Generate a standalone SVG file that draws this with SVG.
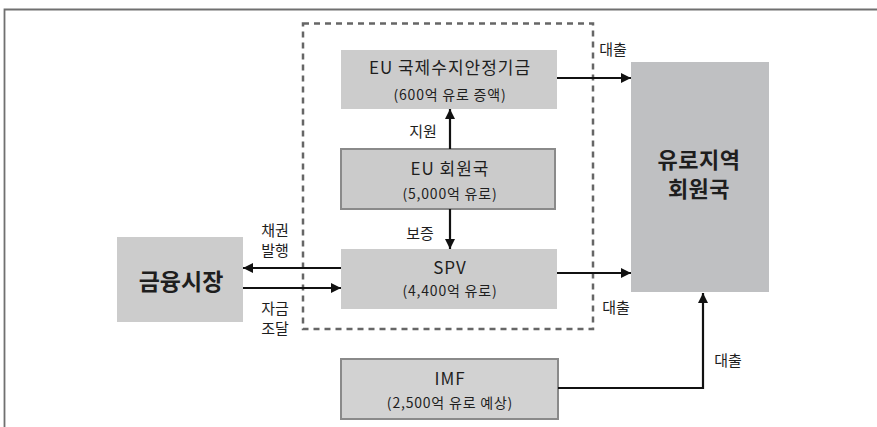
<svg xmlns="http://www.w3.org/2000/svg" width="877" height="427" viewBox="0 0 877 427">
<defs>
<marker id="ah" viewBox="0 0 10 10" refX="10" refY="5" markerWidth="10" markerHeight="10" markerUnits="userSpaceOnUse" orient="auto">
<path d="M0,0 L10,5 L0,10 Z" fill="#111"/>
</marker>
</defs>
<style>
text{font-family:"Noto Sans CJK KR","Liberation Sans",sans-serif;fill:#1e1e1e;text-anchor:middle}
.t{font-size:17px;letter-spacing:1px}
.s{font-size:14px;letter-spacing:0.8px}
.l{font-size:15px}
.big{font-size:23px;font-weight:bold}
.eu{font-size:22px;font-weight:bold;letter-spacing:0.5px}
.box{fill:#cccccc}
.sbox{fill:#cbcbcb;stroke:#8a8a8a;stroke-width:2}
.c{fill:none;stroke:#111;stroke-width:2.2;marker-end:url(#ah)}
</style>
<rect width="877" height="427" fill="#fff"/>
<path d="M4.5,427 L4.5,9.5 L877,9.5" fill="none" stroke="#707070" stroke-width="1.8"/>
<rect x="303" y="23.5" width="290" height="305.5" fill="none" stroke="#666" stroke-width="2.5" stroke-dasharray="6,5"/>
<g id="fund">
<rect class="box" x="341" y="50" width="216" height="59"/>
<text class="t" x="450" y="74">EU 국제수지안정기금</text>
<text class="s" x="450" y="100">(600억 유로 증액)</text>
</g>
<g id="members">
<rect class="sbox" x="341" y="149" width="214" height="60"/>
<text class="t" x="450" y="175">EU 회원국</text>
<text class="s" x="450" y="199">(5,000억 유로)</text>
</g>
<g id="spv">
<rect class="box" x="341" y="249" width="216" height="60"/>
<text class="t" x="450" y="274">SPV</text>
<text class="s" x="450" y="296">(4,400억 유로)</text>
</g>
<g id="market">
<rect class="box" x="117" y="237" width="126" height="85"/>
<text class="big" x="181" y="290">금융시장</text>
</g>
<g id="euro">
<rect x="631" y="62" width="138" height="230" fill="#bfc0c2"/>
<text class="eu" x="699" y="168">유로지역</text>
<text class="eu" x="699" y="197">회원국</text>
</g>
<g id="imf">
<rect x="341" y="359" width="217" height="60" fill="#d2d2d2" stroke="#8a8a8a" stroke-width="2"/>
<text class="t" x="450" y="385">IMF</text>
<text class="s" x="450" y="408">(2,500억 유로 예상)</text>
</g>
<g id="connectors">
<line class="c" x1="557" y1="78" x2="631" y2="78"/>
<line class="c" x1="450" y1="149" x2="450" y2="109"/>
<line class="c" x1="450" y1="209" x2="450" y2="249"/>
<line class="c" x1="341" y1="268" x2="243" y2="268"/>
<line class="c" x1="243" y1="288" x2="341" y2="288"/>
<line class="c" x1="557" y1="273" x2="631" y2="273"/>
<polyline class="c" points="558,388 703,388 703,293"/>
<text class="l" x="613" y="55">대출</text>
<text class="l" x="616" y="313">대출</text>
<text class="l" x="728" y="366">대출</text>
<text class="l" x="423" y="137">지원</text>
<text class="l" x="420" y="239">보증</text>
<text class="l" x="275" y="236">채권</text>
<text class="l" x="275" y="256">발행</text>
<text class="l" x="275" y="314">자금</text>
<text class="l" x="275" y="334">조달</text>
</g>
</svg>
